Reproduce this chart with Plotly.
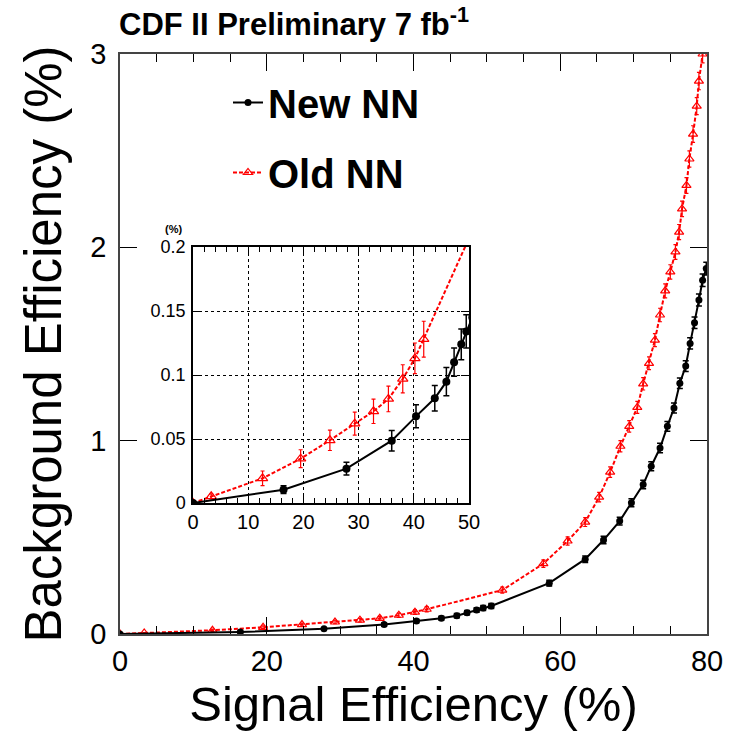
import plotly.graph_objects as go

# ---- data ----
new_x = [0, 16.4, 27.8, 36.0, 40.4, 43.8, 45.9, 47.3, 48.6, 49.5, 50.6, 58.5, 63.4, 65.9,
         68.1, 69.7, 71.3, 72.4, 73.6, 74.6, 75.5, 76.3, 77.1, 77.7, 78.3, 78.9, 79.4, 79.9]
new_y = [0, 0.0104, 0.0268, 0.0487, 0.0677, 0.0818, 0.0948, 0.110, 0.124, 0.134, 0.145, 0.263,
         0.387, 0.486, 0.584, 0.679, 0.773, 0.868, 0.962, 1.074, 1.169, 1.297, 1.386, 1.503,
         1.61, 1.727, 1.83, 1.89]
new_err = [0, 0.003, 0.005, 0.008, 0.009, 0.010, 0.011, 0.011, 0.012, 0.013, 0.013, 0.015,
           0.017, 0.019, 0.020, 0.021, 0.022, 0.023, 0.024, 0.025, 0.026, 0.027, 0.028, 0.029,
           0.030, 0.031, 0.032, 0.033]

old_x = [0, 3.3, 12.6, 19.5, 24.8, 29.3, 32.7, 35.4, 38.0, 40.2, 41.8, 52.1, 57.7, 61.0, 63.4,
         65.3, 66.8, 68.2, 69.4, 70.5, 71.3, 72.1, 72.9, 73.6, 74.3, 75.0, 75.7, 76.2, 76.6,
         77.2, 77.6, 78.1, 78.6, 78.9, 79.4]
old_y = [0, 0.0052, 0.0193, 0.0346, 0.049, 0.062, 0.0716, 0.0813, 0.097, 0.113, 0.128, 0.227,
         0.364, 0.481, 0.579, 0.708, 0.837, 0.971, 1.074, 1.172, 1.294, 1.40, 1.52, 1.65, 1.775,
         1.873, 1.976, 2.079, 2.199, 2.32, 2.457, 2.586, 2.73, 2.86, 3.0]
old_err = [0, 0.002, 0.0057, 0.007, 0.008, 0.009, 0.0095, 0.010, 0.011, 0.012, 0.014, 0.016,
           0.019, 0.021, 0.023, 0.025, 0.027, 0.029, 0.030, 0.031, 0.032, 0.033, 0.034, 0.035,
           0.036, 0.037, 0.038, 0.039, 0.040, 0.041, 0.042, 0.043, 0.044, 0.045, 0.046]

series_names = ["New NN", "Old NN"]
title_text = "CDF II Preliminary 7 fb<sup>-1</sup>"
x_title = "Signal Efficiency (%)"
y_title = "Background Efficiency (%)"

FONT = "Liberation Sans, Arial, Helvetica, sans-serif"
RED = "#ff0000"

fig = go.Figure()

def add_series(xa, ya, msize_c, msize_t, show):
    fig.add_trace(go.Scatter(
        x=old_x, y=old_y, name=series_names[1], mode="lines+markers",
        xaxis=xa, yaxis=ya, showlegend=show, legendrank=2, legendgroup="old",
        line=dict(color=RED, width=2, dash="4px,2px"),
        marker=dict(symbol="triangle-up-open", size=msize_t, color=RED, line=dict(width=1.2, color=RED)),
        error_y=dict(type="data", array=old_err, color=RED, thickness=1.2, width=2),
    ))
    fig.add_trace(go.Scatter(
        x=new_x, y=new_y, name=series_names[0], mode="lines+markers",
        xaxis=xa, yaxis=ya, showlegend=show, legendrank=1, legendgroup="new",
        line=dict(color="black", width=2),
        marker=dict(symbol="circle", size=msize_c, color="black"),
        error_y=dict(type="data", array=new_err, color="black", thickness=1.5, width=3),
    ))

add_series("x", "y", 7, 8, True)
add_series("x2", "y2", 8, 9, False)

W, H = 739, 732
ML, MR, MT, MB = 120, 32, 54, 98
PW, PH = W - ML - MR, H - MT - MB

def px_x(p):
    return (p - ML) / PW

def px_y(p):
    return (H - MB - p) / PH

axis_line = "#444444"

fig.update_layout(
    width=W, height=H,
    margin=dict(l=ML, r=MR, t=MT, b=MB, pad=0),
    paper_bgcolor="white", plot_bgcolor="white",
    font=dict(family=FONT, color="black"),
    legend=dict(
        x=px_x(228), y=px_y(70), xanchor="left", yanchor="top",
        font=dict(size=40, family=FONT, weight="bold"),
        traceorder="grouped", tracegroupgap=15,
        bgcolor="rgba(0,0,0,0)", itemsizing="trace",
    ),
    xaxis=dict(
        domain=[0, 1], range=[0, 80], tickvals=[0, 20, 40, 60, 80],
        ticks="inside", ticklen=17, tickwidth=1.2, tickcolor="black",
        minor=dict(dtick=5, ticks="inside", ticklen=8, tickwidth=1.2, tickcolor="black"),
        showline=True, linecolor=axis_line, linewidth=1.5, mirror="ticks",
        showgrid=False, zeroline=False,
        tickfont=dict(size=29, family=FONT),
        title=dict(text=x_title, font=dict(size=49, family=FONT), standoff=4),
    ),
    yaxis=dict(
        domain=[0, 1], range=[0, 3], tickvals=[0, 1, 2, 3],
        ticks="inside", ticklen=17, tickwidth=1.2, tickcolor="black",
        showline=True, linecolor=axis_line, linewidth=1.5, mirror="ticks",
        showgrid=False, zeroline=False, ticklabelstandoff=6,
        tickfont=dict(size=29, family=FONT),
        title=dict(text=y_title, font=dict(size=51, family=FONT), standoff=12),
    ),
    xaxis2=dict(
        domain=[px_x(193), px_x(469)], anchor="y2", range=[0, 50], dtick=10,
        ticks="inside", ticklen=9, tickwidth=1, tickcolor="black",
        minor=dict(dtick=2, ticks="inside", ticklen=5, tickwidth=1, tickcolor="black", showgrid=False),
        showline=True, linecolor="black", linewidth=1.5, mirror="ticks",
        showgrid=True, gridcolor="black", griddash="dot", gridwidth=1, zeroline=False,
        tickfont=dict(size=20, family=FONT),
    ),
    yaxis2=dict(
        domain=[px_y(503), px_y(247)], anchor="x2", range=[0, 0.2], dtick=0.05,
        ticks="inside", ticklen=8, tickwidth=1, tickcolor="black",
        showline=True, linecolor="black", linewidth=1.5, mirror="ticks",
        showgrid=True, gridcolor="black", griddash="dot", gridwidth=1, zeroline=False,
        tickfont=dict(size=18, family=FONT), ticklabelstandoff=2,
    ),
    annotations=[
        dict(text=title_text, xref="paper", yref="paper", x=-0.005, y=px_y(44),
             xanchor="left", yanchor="bottom", showarrow=False,
             font=dict(size=31, family=FONT, weight="bold")),
        dict(text="(%)", xref="paper", yref="paper", x=px_x(173), y=px_y(237),
             xanchor="center", yanchor="bottom", showarrow=False,
             font=dict(size=11, family=FONT, weight="bold")),
    ],
)

fig.write_html("out.html")
